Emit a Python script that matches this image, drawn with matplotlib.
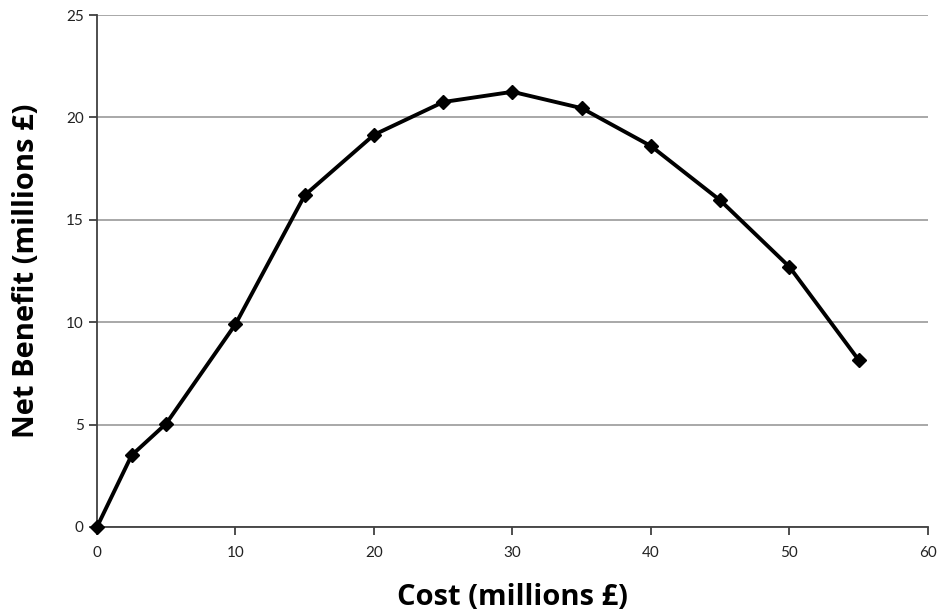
import matplotlib
matplotlib.use('Agg')
import matplotlib.pyplot as plt

cost = [0, 2.5, 5, 10, 15, 20, 25, 30, 35, 40, 45, 50, 55]
net_benefit = [0, 3.5, 5.05, 9.9, 16.2, 19.15, 20.75, 21.25, 20.45, 18.6, 15.95, 12.7, 8.15]
x_ticks = [0, 10, 20, 30, 40, 50, 60]
y_ticks = [0, 5, 10, 15, 20, 25]

plt.rcParams['font.family'] = ['Lato', 'DejaVu Sans']

fig = plt.figure(figsize=(9.38, 6.10), dpi=100)
ax = fig.add_axes([0.1034, 0.1361, 0.8859, 0.8393])

ax.plot(cost, net_benefit, color='black', lw=2.8, marker='D', ms=7,
        clip_on=False, zorder=3)

ax.set_xlim(0, 60)
ax.set_ylim(0, 25)
ax.set_xticks(x_ticks)
ax.set_yticks(y_ticks)
ax.grid(axis='y', color='#9a9a9a', lw=1.2)
ax.set_axisbelow(True)

for s in ['top', 'right']:
    ax.spines[s].set_visible(False)
for s in ['left', 'bottom']:
    ax.spines[s].set_color('#404040')
    ax.spines[s].set_linewidth(1.3)

ax.tick_params(axis='both', direction='out', length=6, width=1.3, color='#404040',
               labelsize=11, labelcolor='#222222')
ax.tick_params(axis='x', pad=8)

# labels in a wider bold face, closer to the original
lab_font = dict(family=['Open Sans', 'DejaVu Sans'], fontsize=21, fontweight='bold')
ax.set_xlabel('Cost (millions £)', labelpad=16, **lab_font)
ax.set_ylabel('Net Benefit (millions £)', labelpad=18, **lab_font)

plt.savefig('out.png', dpi=100)
plt.close()
